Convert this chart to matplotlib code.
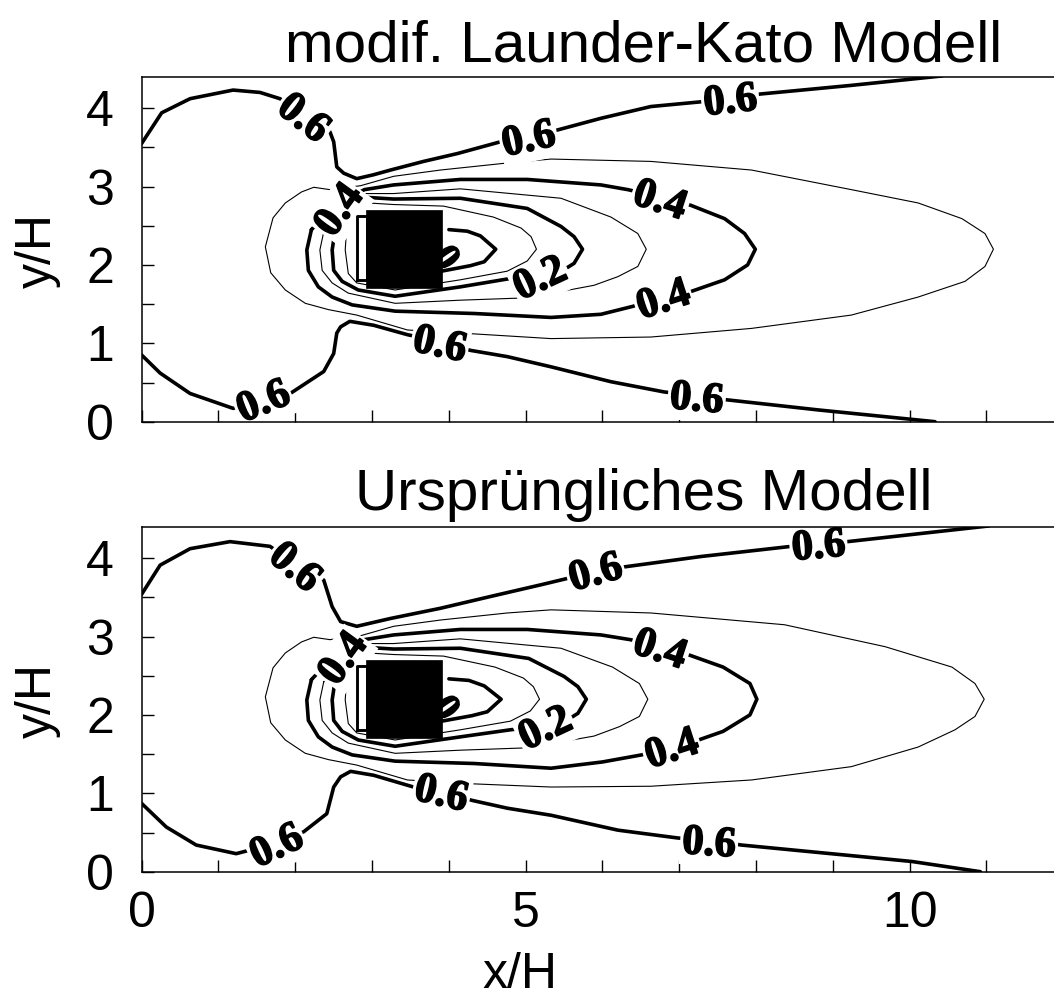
import matplotlib
matplotlib.use("Agg")
import matplotlib.pyplot as plt
import matplotlib.patheffects as pe
from matplotlib.patches import Rectangle
from matplotlib.ticker import MultipleLocator

# ---------------------------------------------------------------------------
# Obstacle (cube seen from above) and axis ranges, in units of H
# ---------------------------------------------------------------------------
OBSTACLE = (2.92, 1.70, 0.99, 1.00)          # x0, y0, width, height
X_RANGE = (0.0, 12.0)
Y_RANGE = (0.0, 4.4)
X_TICKS = [0, 5, 10]
Y_TICKS = [0, 1, 2, 3, 4]
TITLES = ["modif. Launder-Kato Modell", "Ursprüngliches Modell"]

# ---------------------------------------------------------------------------
# Isolines, upper panel (modified Launder-Kato model)
# ---------------------------------------------------------------------------
TOP_06_A = [(0.00, 3.55), (0.26, 3.94), (0.63, 4.12), (1.19, 4.23), (1.54, 4.20),
            (1.80, 4.12), (2.13, 3.90), (2.45, 3.70), (2.50, 3.57), (2.54, 3.25),
            (2.63, 3.17), (2.80, 3.10), (3.02, 3.15), (3.24, 3.21), (3.67, 3.32),
            (4.11, 3.42), (4.67, 3.57), (5.03, 3.64), (5.41, 3.72), (5.98, 3.87),
            (6.63, 4.02), (7.28, 4.08), (7.66, 4.13), (8.06, 4.18), (9.24, 4.29),
            (10.42, 4.41)]
TOP_06_B = [(0.00, 0.85), (0.24, 0.62), (0.63, 0.36), (1.19, 0.17), (1.57, 0.26),
            (1.95, 0.37), (2.37, 0.64), (2.50, 0.87), (2.54, 1.13), (2.59, 1.21),
            (2.71, 1.28), (3.02, 1.23), (3.46, 1.11), (3.89, 1.02), (4.28, 0.91),
            (4.76, 0.83), (5.33, 0.70), (6.11, 0.51), (6.80, 0.38), (7.23, 0.33),
            (7.61, 0.28), (8.81, 0.15), (10.33, 0.00)]
TOP_05 = [(2.45, 2.96), (2.24, 2.99), (2.08, 2.93), (1.87, 2.79), (1.71, 2.60),
          (1.61, 2.23), (1.68, 1.90), (1.87, 1.68), (2.13, 1.51), (2.43, 1.43),
          (2.80, 1.36), (3.46, 1.17), (4.33, 1.12), (5.33, 1.06), (6.63, 1.08),
          (7.94, 1.19), (9.24, 1.36), (10.11, 1.59), (10.72, 1.79), (10.98, 1.98),
          (11.09, 2.20), (10.98, 2.40), (10.68, 2.59), (10.11, 2.79), (9.24, 2.96),
          (7.94, 3.21), (6.63, 3.32), (5.33, 3.35), (4.76, 3.30), (3.89, 3.21),
          (3.28, 3.13), (2.85, 3.01), (2.45, 2.96)]
TOP_04 = [(2.21, 2.45), (2.15, 2.19), (2.17, 1.93), (2.30, 1.72), (2.48, 1.59),
          (2.74, 1.49), (3.30, 1.41), (4.33, 1.38), (5.33, 1.33), (5.98, 1.37),
          (6.39, 1.47), (6.78, 1.58), (7.15, 1.66), (7.59, 1.81), (7.89, 2.00),
          (7.99, 2.20), (7.85, 2.40), (7.59, 2.59), (7.15, 2.76), (6.76, 2.86),
          (6.33, 2.96), (5.98, 3.02), (5.02, 3.09), (4.15, 3.09), (3.28, 3.02),
          (2.90, 2.96), (2.50, 2.75), (2.21, 2.45)]
TOP_03 = [(2.37, 2.42), (2.32, 2.19), (2.35, 1.93), (2.48, 1.77), (2.69, 1.64),
          (3.30, 1.51), (4.15, 1.55), (5.02, 1.58), (5.89, 1.74), (6.20, 1.85),
          (6.46, 1.98), (6.57, 2.20), (6.46, 2.40), (6.11, 2.61), (5.46, 2.85),
          (4.15, 2.97), (3.28, 2.91), (2.92, 2.91), (2.55, 2.65), (2.37, 2.42)]
TOP_02 = [(2.52, 2.45), (2.48, 2.19), (2.50, 1.93), (2.61, 1.79), (2.82, 1.68),
          (3.30, 1.60), (4.15, 1.72), (4.76, 1.82), (5.17, 1.87), (5.50, 1.94),
          (5.63, 2.02), (5.74, 2.20), (5.63, 2.36), (5.46, 2.49), (5.02, 2.72),
          (4.15, 2.85), (3.28, 2.84), (2.95, 2.86), (2.65, 2.62), (2.52, 2.45)]
TOP_01 = [(2.67, 2.49), (2.65, 2.19), (2.69, 1.89), (2.80, 1.77), (3.30, 1.68),
          (4.15, 1.81), (4.76, 1.92), (5.02, 2.05), (5.14, 2.20), (5.07, 2.36),
          (4.94, 2.47), (4.58, 2.61), (3.93, 2.75), (3.28, 2.77), (2.95, 2.79),
          (2.75, 2.62), (2.67, 2.49)]
TOP_00_FRONT = [(2.80, 1.81), (2.80, 2.62), (2.93, 2.62), (2.93, 1.81), (2.80, 1.81)]
TOP_00_REAR = [(4.00, 2.45), (4.24, 2.43), (4.41, 2.37), (4.61, 2.20), (4.46, 2.04),
               (4.28, 1.99), (3.85, 1.91)]
TOP_LABELS = [("0.6", 2.13, 3.90, -38), ("0.6", 5.03, 3.64, 12), ("0.6", 7.66, 4.13, 6),
              ("0.6", 1.57, 0.29, 22), ("0.6", 3.89, 1.02, -12), ("0.6", 7.23, 0.33, -5),
              ("0.4", 2.54, 2.72, 54), ("0.4", 6.76, 2.86, -18), ("0.4", 6.78, 1.59, 18),
              ("0.2", 5.17, 1.86, 25)]

# ---------------------------------------------------------------------------
# Isolines, lower panel (original model)
# ---------------------------------------------------------------------------
BOT_06_A = [(0.00, 3.54), (0.24, 3.91), (0.63, 4.12), (1.15, 4.21), (1.67, 4.15),
            (2.02, 3.91), (2.37, 3.72), (2.48, 3.38), (2.59, 3.19), (2.80, 3.13),
            (3.24, 3.23), (3.89, 3.36), (4.54, 3.51), (5.20, 3.66), (5.54, 3.74),
            (5.90, 3.84), (6.30, 3.89), (7.28, 4.02), (8.46, 4.15), (8.81, 4.19),
            (9.19, 4.21), (11.03, 4.41)]
BOT_06_B = [(0.00, 0.87), (0.32, 0.57), (0.71, 0.34), (1.23, 0.23), (1.74, 0.36),
            (2.11, 0.51), (2.41, 0.74), (2.50, 1.08), (2.59, 1.21), (2.72, 1.28),
            (3.02, 1.23), (3.54, 1.08), (3.91, 1.02), (4.30, 0.91), (4.76, 0.81),
            (5.33, 0.72), (6.20, 0.53), (6.98, 0.43), (7.39, 0.40), (7.81, 0.34),
            (10.03, 0.13), (10.92, 0.00)]
BOT_05 = [(2.45, 2.96), (2.24, 2.99), (2.08, 2.93), (1.87, 2.79), (1.71, 2.60),
          (1.61, 2.23), (1.68, 1.90), (1.87, 1.68), (2.13, 1.51), (2.43, 1.43),
          (2.80, 1.36), (3.46, 1.17), (4.33, 1.12), (5.33, 1.08), (6.63, 1.09),
          (7.94, 1.17), (9.24, 1.34), (10.11, 1.59), (10.59, 1.81), (10.85, 1.98),
          (10.97, 2.20), (10.85, 2.40), (10.55, 2.61), (9.68, 2.87), (8.37, 3.15),
          (6.63, 3.30), (5.33, 3.34), (4.76, 3.30), (3.89, 3.21), (3.28, 3.13),
          (2.85, 3.01), (2.45, 2.96)]
BOT_04 = [(2.21, 2.45), (2.15, 2.19), (2.17, 1.93), (2.30, 1.72), (2.48, 1.59),
          (2.74, 1.49), (3.30, 1.41), (4.33, 1.38), (5.33, 1.32), (6.00, 1.40),
          (6.51, 1.49), (6.89, 1.60), (7.25, 1.68), (7.57, 1.79), (7.92, 2.00),
          (8.01, 2.20), (7.92, 2.40), (7.57, 2.61), (7.14, 2.76), (6.76, 2.87),
          (6.36, 2.96), (5.98, 3.02), (5.02, 3.09), (4.15, 3.09), (3.28, 3.02),
          (2.90, 2.96), (2.50, 2.75), (2.21, 2.45)]
BOT_03 = [(2.37, 2.42), (2.32, 2.19), (2.35, 1.93), (2.48, 1.77), (2.69, 1.64),
          (3.30, 1.51), (4.15, 1.55), (5.02, 1.58), (5.89, 1.73), (6.22, 1.85),
          (6.48, 1.98), (6.59, 2.20), (6.48, 2.40), (6.13, 2.61), (5.46, 2.85),
          (4.15, 2.97), (3.28, 2.91), (2.92, 2.91), (2.55, 2.65), (2.37, 2.42)]
BOT_02 = [(2.52, 2.45), (2.48, 2.19), (2.50, 1.93), (2.61, 1.79), (2.82, 1.68),
          (3.30, 1.60), (4.15, 1.72), (4.80, 1.81), (5.24, 1.86), (5.55, 1.94),
          (5.68, 2.02), (5.79, 2.20), (5.68, 2.36), (5.50, 2.49), (5.04, 2.72),
          (4.15, 2.85), (3.28, 2.84), (2.95, 2.86), (2.65, 2.62), (2.52, 2.45)]
BOT_01 = [(2.67, 2.49), (2.65, 2.19), (2.69, 1.89), (2.80, 1.77), (3.30, 1.68),
          (4.15, 1.81), (4.80, 1.92), (5.06, 2.05), (5.18, 2.20), (5.10, 2.36),
          (4.97, 2.47), (4.60, 2.61), (3.93, 2.75), (3.28, 2.77), (2.95, 2.79),
          (2.75, 2.62), (2.67, 2.49)]
BOT_00_FRONT = [(2.80, 1.81), (2.80, 2.62), (2.93, 2.62), (2.93, 1.81), (2.80, 1.81)]
BOT_00_REAR = [(4.00, 2.46), (4.26, 2.44), (4.46, 2.37), (4.68, 2.20), (4.50, 2.04),
               (4.30, 1.99), (3.85, 1.91)]
BOT_LABELS = [("0.6", 2.02, 3.91, -40), ("0.6", 5.90, 3.85, 15), ("0.6", 8.81, 4.19, 5),
              ("0.6", 1.74, 0.36, 25), ("0.6", 3.91, 1.03, -13), ("0.6", 7.39, 0.40, -4),
              ("0.4", 2.59, 2.74, 54), ("0.4", 6.76, 2.87, -18), ("0.4", 6.89, 1.60, 18),
              ("0.2", 5.24, 1.86, 25)]

ZERO_LABEL = ("0", 3.99, 2.11, -55)

TOP_LINES = [(0.6, TOP_06_A), (0.6, TOP_06_B), (0.5, TOP_05), (0.4, TOP_04),
             (0.3, TOP_03), (0.2, TOP_02), (0.1, TOP_01), (0.0, TOP_00_REAR)]
BOT_LINES = [(0.6, BOT_06_A), (0.6, BOT_06_B), (0.5, BOT_05), (0.4, BOT_04),
             (0.3, BOT_03), (0.2, BOT_02), (0.1, BOT_01), (0.0, BOT_00_REAR)]

SANS = ["Liberation Sans", "DejaVu Sans"]
SERIF = ["Liberation Serif", "DejaVu Serif"]
THICK, THIN = 2.6, 0.8
LABEL_SIZE = 31
HEAVY = [pe.withStroke(linewidth=1.1, foreground="black")]

W, H = 1054, 996
fig = plt.figure(figsize=(W / 100, H / 100), dpi=100)

px_per_x, px_per_y = 76.8, 78.4
ax_w = (X_RANGE[1] - X_RANGE[0]) * px_per_x / W
ax_h = (Y_RANGE[1] - Y_RANGE[0]) * px_per_y / H
ax_top = fig.add_axes([141.7 / W, 1 - 421.7 / H, ax_w, ax_h])
ax_bot = fig.add_axes([141.7 / W, 1 - 871.7 / H, ax_w, ax_h])


def draw_panel(ax, lines, front, labels, show_xlabels):
    for level, pts in lines:
        xs, ys = zip(*pts)
        lw = THICK if round(level * 10) % 2 == 0 else THIN
        ax.plot(xs, ys, color="black", lw=lw, solid_joinstyle="round",
                solid_capstyle="round", zorder=2)
    for txt, x, y, rot in labels:
        ax.text(x, y, txt, rotation=rot, rotation_mode="anchor", ha="center",
                va="center_baseline", fontsize=LABEL_SIZE, fontweight="bold",
                family=SERIF, zorder=4, clip_on=True, path_effects=HEAVY,
                bbox=dict(boxstyle="square,pad=0.05", fc="white", ec="none"))
    t, x, y, rot = ZERO_LABEL
    ax.text(x, y, t, rotation=rot, rotation_mode="anchor", ha="center",
            va="center_baseline", fontsize=LABEL_SIZE - 3, fontweight="bold",
            family=SERIF, zorder=4, path_effects=HEAVY)
    fx, fy = zip(*front)
    ax.fill(fx, fy, color="white", zorder=5)
    ax.plot(fx, fy, color="black", lw=THICK * 0.8, zorder=5)
    x0, y0, w, h = OBSTACLE
    ax.add_patch(Rectangle((x0, y0), w, h, fc="black", ec="black", lw=0.5, zorder=6))

    ax.set_xlim(*X_RANGE)
    ax.set_ylim(*Y_RANGE)
    ax.xaxis.set_minor_locator(MultipleLocator(1))
    ax.yaxis.set_minor_locator(MultipleLocator(0.5))
    ax.set_yticks(Y_TICKS)
    ax.set_yticklabels([str(v) for v in Y_TICKS], family=SANS)
    ax.set_xticks(X_TICKS)
    ax.set_xticklabels([str(v) for v in X_TICKS], family=SANS)
    ax.tick_params(which="both", direction="in", length=8.5, width=1.0,
                   top=False, right=False, labelsize=36, color="black")
    ax.tick_params(axis="y", which="both", pad=20)
    ax.tick_params(axis="x", which="both", pad=14, labelbottom=show_xlabels)
    for sp in ax.spines.values():
        sp.set_linewidth(1.1)
        sp.set_color("black")
        sp.set_zorder(7)


draw_panel(ax_top, TOP_LINES, TOP_00_FRONT, TOP_LABELS, False)
draw_panel(ax_bot, BOT_LINES, BOT_00_FRONT, BOT_LABELS, True)

# panel titles and axis titles
fig.text(643.5 / W, 1 - 61 / H, TITLES[0], ha="center", va="baseline",
         fontsize=42, family=SANS)
fig.text(643.5 / W, 1 - 510 / H, TITLES[1], ha="center", va="baseline",
         fontsize=42, family=SANS)
fig.text(38 / W, 1 - 250 / H, "y/H", rotation=90, ha="center", va="center",
         fontsize=36, family=SANS)
fig.text(38 / W, 1 - 700 / H, "y/H", rotation=90, ha="center", va="center",
         fontsize=36, family=SANS)
fig.text(520 / W, 1 - 975 / H, "x/H", ha="center", va="center",
         fontsize=36, family=SANS)

fig.savefig("out.png", dpi=100)
